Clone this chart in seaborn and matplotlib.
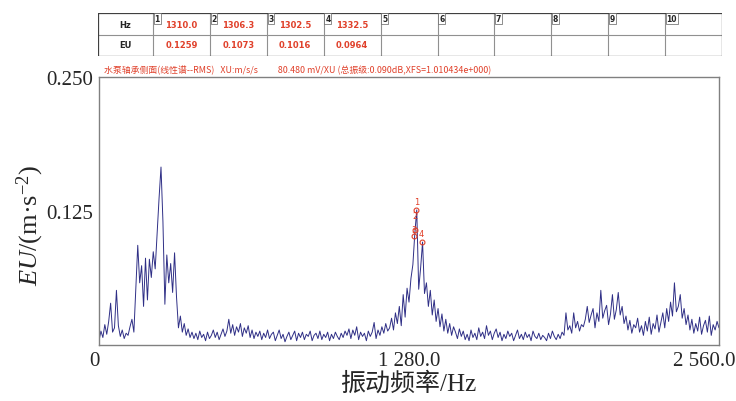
import numpy as np
import pandas as pd
import matplotlib
matplotlib.use("Agg")
import matplotlib.pyplot as plt
import matplotlib.transforms as mtransforms
import seaborn as sns

sns.set_style("white")
plt.rcParams['font.family'] = ['Liberation Serif', 'Noto Sans CJK SC']
plt.rcParams['mathtext.fontset'] = 'custom'
plt.rcParams['mathtext.rm'] = 'Liberation Serif'
plt.rcParams['mathtext.it'] = 'Liberation Serif:italic'

# 频谱幅值 (m/s^2)，0~2560 Hz，每 8 Hz 一个点
amp = [
    0.004, 0.013, 0.007, 0.019, 0.010, 0.022, 0.039, 0.012, 0.016, 0.051,
    0.018, 0.008, 0.014, 0.006, 0.011, 0.009, 0.017, 0.024, 0.012, 0.052,
    0.093, 0.058, 0.074, 0.036, 0.081, 0.042, 0.080, 0.063, 0.087, 0.071,
    0.104, 0.137, 0.166, 0.115, 0.038, 0.084, 0.058, 0.076, 0.049, 0.086,
    0.045, 0.016, 0.027, 0.012, 0.020, 0.009, 0.015, 0.007, 0.012, 0.006,
    0.011, 0.005, 0.013, 0.007, 0.010, 0.004, 0.012, 0.006, 0.009, 0.014,
    0.007, 0.012, 0.005, 0.010, 0.015, 0.008, 0.013, 0.024, 0.011, 0.019,
    0.009, 0.017, 0.012, 0.020, 0.008, 0.016, 0.011, 0.018, 0.007, 0.014,
    0.006, 0.012, 0.008, 0.013, 0.005, 0.011, 0.007, 0.014, 0.006, 0.010,
    0.012, 0.004, 0.009, 0.014, 0.006, 0.010, 0.003, 0.008, 0.012, 0.005,
    0.009, 0.013, 0.004, 0.011, 0.007, 0.012, 0.005, 0.010, 0.008, 0.013,
    0.004, 0.009, 0.011, 0.006, 0.013, 0.005, 0.010, 0.007, 0.012, 0.004,
    0.010, 0.006, 0.012, 0.008, 0.005, 0.011, 0.007, 0.013, 0.009, 0.015,
    0.006, 0.014, 0.009, 0.017, 0.005, 0.012, 0.008, 0.011, 0.004, 0.013,
    0.008, 0.012, 0.021, 0.006, 0.014, 0.009, 0.017, 0.011, 0.020, 0.013,
    0.016, 0.025, 0.014, 0.030, 0.020, 0.036, 0.018, 0.047, 0.026, 0.053,
    0.040, 0.062, 0.075, 0.104, 0.126, 0.052, 0.072, 0.096, 0.048, 0.058,
    0.036, 0.051, 0.028, 0.042, 0.022, 0.034, 0.017, 0.029, 0.013, 0.024,
    0.011, 0.020, 0.009, 0.017, 0.012, 0.006, 0.015, 0.008, 0.013, 0.005,
    0.010, 0.004, 0.014, 0.007, 0.011, 0.005, 0.016, 0.008, 0.012, 0.006,
    0.018, 0.009, 0.013, 0.005, 0.011, 0.015, 0.007, 0.012, 0.004, 0.010,
    0.006, 0.013, 0.008, 0.011, 0.004, 0.009, 0.014, 0.006, 0.010, 0.005,
    0.012, 0.007, 0.010, 0.004, 0.013, 0.008, 0.006, 0.011, 0.005, 0.009,
    0.007, 0.004, 0.011, 0.006, 0.013, 0.008, 0.005, 0.010, 0.006, 0.012,
    0.009, 0.030, 0.014, 0.018, 0.011, 0.030, 0.016, 0.022, 0.013, 0.019,
    0.017, 0.024, 0.036, 0.021, 0.028, 0.034, 0.016, 0.030, 0.022, 0.051,
    0.025, 0.032, 0.037, 0.019, 0.029, 0.047, 0.024, 0.033, 0.049, 0.028,
    0.036, 0.020, 0.027, 0.014, 0.023, 0.011, 0.019, 0.016, 0.025, 0.012,
    0.018, 0.009, 0.022, 0.013, 0.026, 0.010, 0.020, 0.015, 0.028, 0.012,
    0.021, 0.030, 0.016, 0.034, 0.022, 0.040, 0.027, 0.058, 0.031, 0.036,
    0.047, 0.025, 0.034, 0.019, 0.028, 0.014, 0.024, 0.011, 0.020, 0.013,
    0.026, 0.010, 0.018, 0.023, 0.012, 0.027, 0.009, 0.019, 0.014, 0.022,
    0.016,
]
freq = np.linspace(0, 2560, len(amp))

# 光标读数
peak_hz = [1310.0, 1306.3, 1302.5, 1332.5]
peak_eu = [0.1259, 0.1073, 0.1016, 0.0964]
peak_txt = ["1310.0", "1306.3", "1302.5", "1332.5"]
eu_txt = ["0.1259", "0.1073", "0.1016", "0.0964"]
label_dy = [0.004, 0.009, 0.002, 0.003]

red = '#E0402A'
df = pd.DataFrame({'f': freq, 'a': amp})

fig = plt.figure(figsize=(7.36, 4.02), dpi=100)
ax = fig.add_axes([99/736, 1 - 346/402, 620/736, 268/402])
sns.lineplot(data=df, x='f', y='a', ax=ax, color='#2F2F86', linewidth=0.7,
             estimator=None, sort=False)

# 光标标记
ax.plot(peak_hz, peak_eu, 'o', mfc='none', mec=red, ms=3.5, mew=0.8)
for i, (h, e) in enumerate(zip(peak_hz, peak_eu)):
    ax.text(h, e + label_dy[i], str(i + 1), color=red, fontsize=6, ha='center',
            va='bottom', family='DejaVu Sans')

ax.set_xlim(0, 2560)
ax.set_ylim(0, 0.25)
ax.set_xticks([0, 1280, 2560])
ax.set_xticklabels(['0', '1 280.0', '2 560.0'])
ax.set_yticks([0.125, 0.25])
ax.set_yticklabels(['0.125', '0.250'])
ax.tick_params(axis='both', labelsize=15, length=3, width=0.8, color='#808080',
               direction='out', pad=1)
lbls = ax.get_xticklabels()
lbls[0].set_transform(lbls[0].get_transform() +
                      mtransforms.ScaledTranslation(-5/100, 0, fig.dpi_scale_trans))
lbls[-1].set_transform(lbls[-1].get_transform() +
                       mtransforms.ScaledTranslation(-15/100, 0, fig.dpi_scale_trans))
for s in ax.spines.values():
    s.set_color('#808080')
    s.set_linewidth(1.0)
ax.set_xlabel('')
ax.set_ylabel('')

fig.text(408/736, 1 - 384/402, '振动频率/Hz', fontsize=18, ha='center', va='center')
fig.text(30/736, 1 - 225/402, r'$\mathit{EU}$/(m·s$^{-2}$)', fontsize=19,
         rotation=90, ha='center', va='center')

# 红色说明行
fig.text(104/736, 1 - 70/402,
         '水泵轴承侧面(线性谱--RMS)   XU:m/s/s          80.480 mV/XU (总振级:0.090dB,XFS=1.010434e+000)',
         fontsize=6.4, color=red, ha='left', va='center',
         family=['Noto Sans CJK SC', 'DejaVu Sans'])

# 顶部读数表
tab = fig.add_axes([98/736, 1 - 57/402, 624/736, 43/402])
tab.set_xlim(98, 722)
tab.set_ylim(57, 14)
tab.axis('off')
cols = [98, 153] + [153 + 56.9 * k for k in range(1, 11)]
for x in cols[1:-1]:
    tab.plot([x, x], [14, 57], color='#909090', lw=0.8)
tab.plot([98, 722], [35.5, 35.5], color='#909090', lw=0.8)
tab.plot([98, 722, 722, 98, 98], [14, 14, 57, 57, 14], color='#404040', lw=0.9)
tab.text(125, 25, 'Hz', fontsize=6, ha='center', va='center', family='DejaVu Sans',
         fontweight='bold')
tab.text(125, 46, 'EU', fontsize=6, ha='center', va='center', family='DejaVu Sans',
         fontweight='bold')
for k in range(10):
    x0 = cols[k + 1]
    tab.text(x0 + 1.5, 15, str(k + 1), fontsize=5.5, ha='left', va='top',
             family='DejaVu Sans', fontweight='bold',
             bbox=dict(boxstyle='square,pad=0.1', fc='white', ec='#606060', lw=0.5))
for k in range(4):
    xc = cols[k + 1] + 28.5
    tab.text(xc, 26, peak_txt[k], fontsize=6, color=red, ha='center', va='center',
             family='DejaVu Sans', fontweight='bold')
    tab.text(xc, 46, eu_txt[k], fontsize=6, color=red, ha='center', va='center',
             family='DejaVu Sans', fontweight='bold')

fig.savefig('out.png', dpi=100)
